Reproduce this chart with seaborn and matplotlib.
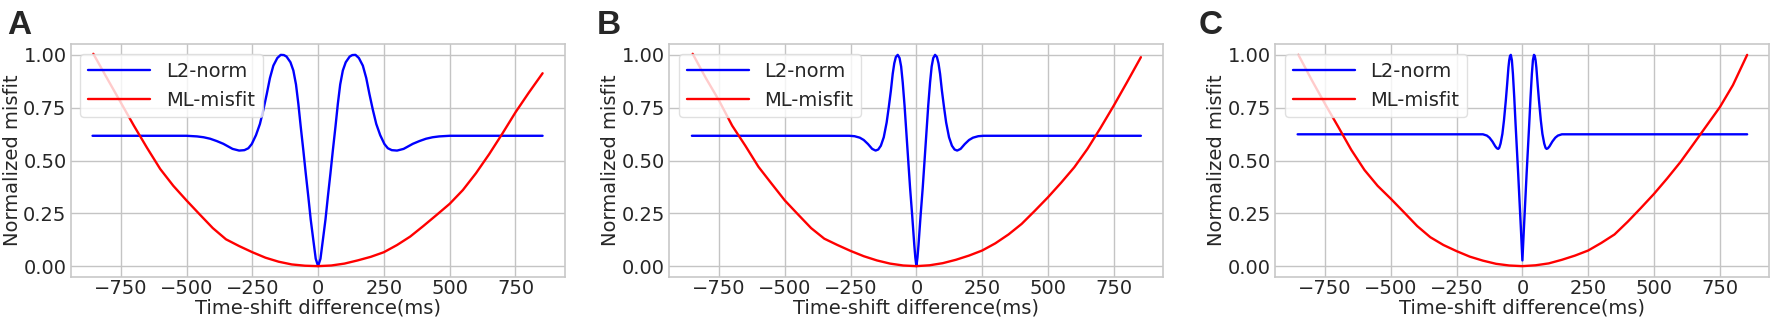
import matplotlib
matplotlib.use("Agg")
import matplotlib.pyplot as plt
import seaborn as sns

# ---------------- data ----------------
# Panel A
A_l2_x = [-857, -500, -460, -435, -410, -385, -360, -325, -300, -280, -265, -252, -236, -221, -208, -195,
          -183, -170, -155, -142, -130, -120, -105, -94, -84, -75, -66, -56, -47, -37, -28, -18, -9, 0,
          9, 18, 28, 37, 47, 56, 66, 75, 84, 94, 105, 120, 130, 142, 155, 170, 183, 195, 208, 221, 236,
          252, 265, 280, 300, 325, 360, 385, 410, 435, 460, 500, 853]
A_l2_y = [0.617, 0.617, 0.614, 0.610, 0.603, 0.592, 0.579, 0.555, 0.547, 0.549, 0.558, 0.578, 0.620, 0.673,
          0.740, 0.815, 0.890, 0.949, 0.985, 1.0, 0.999, 0.992, 0.965, 0.926, 0.860, 0.768, 0.660, 0.547,
          0.440, 0.327, 0.220, 0.122, 0.035, 0.0,
          0.035, 0.122, 0.220, 0.327, 0.440, 0.547, 0.660, 0.768, 0.860, 0.926, 0.965, 0.992, 0.999, 1.0,
          0.985, 0.949, 0.890, 0.815, 0.740, 0.673, 0.620, 0.578, 0.558, 0.549, 0.547, 0.555, 0.579, 0.592,
          0.603, 0.610, 0.614, 0.617, 0.617]
A_ml_x = [-854, -800, -750, -700, -650, -600, -550, -500, -450, -400, -350, -300, -250, -200, -150, -100,
          -50, 0, 50, 100, 150, 200, 250, 300, 350, 400, 450, 500, 550, 600, 650, 700, 750, 800, 853]
A_ml_y = [1.005, 0.885, 0.775, 0.665, 0.560, 0.460, 0.380, 0.311, 0.245, 0.180, 0.127, 0.095, 0.066,
          0.040, 0.021, 0.008, 0.002, 0.0, 0.003, 0.012, 0.027, 0.044, 0.066, 0.100, 0.140, 0.190, 0.242,
          0.295, 0.360, 0.440, 0.530, 0.627, 0.728, 0.820, 0.913]

# Panel B
B_l2_x = [-853, -255, -235, -215, -200, -184, -168, -155, -145, -135, -124, -113, -105, -97, -90, -84,
          -78, -71, -64, -58, -52, -45, -38, -31, -24, -16, -8, -4, 0, 4, 8, 16, 24, 31, 38, 45, 52, 58,
          64, 71, 78, 84, 90, 97, 105, 113, 124, 135, 145, 155, 168, 184, 200, 215, 235, 255, 853]
B_l2_y = [0.617, 0.617, 0.615, 0.608, 0.597, 0.578, 0.555, 0.547, 0.552, 0.570, 0.610, 0.680, 0.752,
          0.830, 0.910, 0.960, 0.990, 1.0, 0.985, 0.945, 0.870, 0.760, 0.630, 0.500, 0.370, 0.240, 0.100,
          0.040, 0.0, 0.040, 0.100, 0.240, 0.370, 0.500, 0.630, 0.760, 0.870, 0.945, 0.985, 1.0, 0.990,
          0.960, 0.910, 0.830, 0.752, 0.680, 0.610, 0.570, 0.552, 0.547, 0.555, 0.578, 0.597, 0.608,
          0.615, 0.617, 0.617]
B_ml_x = [-850, -800, -750, -700, -650, -600, -550, -500, -450, -400, -350, -300, -250, -200, -150, -100,
          -50, 0, 50, 100, 150, 200, 250, 300, 350, 400, 450, 500, 550, 600, 650, 700, 750, 800, 853]
B_ml_y = [1.005, 0.890, 0.784, 0.665, 0.570, 0.470, 0.390, 0.311, 0.245, 0.180, 0.130, 0.100, 0.072,
          0.047, 0.027, 0.012, 0.003, 0.0, 0.004, 0.014, 0.030, 0.050, 0.074, 0.108, 0.150, 0.200, 0.262,
          0.326, 0.395, 0.468, 0.555, 0.655, 0.760, 0.870, 0.989]

# Panel C
C_l2_x = [-854, -150, -135, -125, -114, -103, -97, -92, -88, -83, -76, -70, -63, -58, -53, -50, -47, -44,
          -40, -36, -31, -26, -21, -16, -11, -6, 0, 6, 11, 16, 21, 26, 31, 36, 40, 44, 47, 50, 53, 58,
          63, 70, 76, 83, 88, 92, 97, 103, 114, 125, 135, 150, 854]
C_l2_y = [0.624, 0.624, 0.618, 0.608, 0.590, 0.567, 0.558, 0.555, 0.560, 0.580, 0.626, 0.690, 0.784,
          0.860, 0.941, 0.975, 0.995, 1.0, 0.975, 0.910, 0.800, 0.674, 0.555, 0.437, 0.310, 0.185, 0.027,
          0.185, 0.310, 0.437, 0.555, 0.674, 0.800, 0.910, 0.975, 1.0, 0.995, 0.975, 0.941, 0.860, 0.784,
          0.690, 0.626, 0.580, 0.560, 0.555, 0.558, 0.567, 0.590, 0.608, 0.618, 0.624, 0.624]
C_ml_x = [-851, -800, -750, -700, -650, -600, -550, -500, -450, -400, -350, -300, -250, -200, -150, -100,
          -50, 0, 50, 100, 150, 200, 250, 300, 350, 400, 450, 500, 550, 600, 650, 700, 750, 800, 854]
C_ml_y = [1.0, 0.880, 0.768, 0.660, 0.550, 0.455, 0.380, 0.319, 0.255, 0.190, 0.137, 0.100, 0.071, 0.045,
          0.026, 0.011, 0.003, 0.0, 0.004, 0.013, 0.030, 0.050, 0.074, 0.110, 0.150, 0.210, 0.275, 0.342,
          0.415, 0.492, 0.578, 0.665, 0.752, 0.857, 1.0]

panel_letters = ["A", "B", "C"]
series_names = ["L2-norm", "ML-misfit"]
x_ticks = [-750, -500, -250, 0, 250, 500, 750]
y_ticks = [0.00, 0.25, 0.50, 0.75, 1.00]
x_label = "Time-shift difference(ms)"
y_label = "Normalized misfit"

panels = [
    (A_l2_x, A_l2_y, A_ml_x, A_ml_y),
    (B_l2_x, B_l2_y, B_ml_x, B_ml_y),
    (C_l2_x, C_l2_y, C_ml_x, C_ml_y),
]

# ---------------- style ----------------
sns.set_style("whitegrid", {
    "grid.color": "#c4c4c4",
    "axes.edgecolor": "#c8c8c8",
})
plt.rcParams["font.family"] = ["DejaVu Sans"]
plt.rcParams["axes.linewidth"] = 1.2
plt.rcParams["grid.linewidth"] = 1.0

W, H = 1772, 322
fig = plt.figure(figsize=(W / 100, H / 100), dpi=100)

ax_lefts = [70.7, 669.0, 1275.0]
ax_w = 494.0
ax_top, ax_bot = 44.3, 276.7
label_x = [7, 597, 1199]

for i, (lx, ly, mx, my) in enumerate(panels):
    ax = fig.add_axes([ax_lefts[i] / W, (H - ax_bot) / H, ax_w / W, (ax_bot - ax_top) / H])
    sns.lineplot(x=lx, y=ly, ax=ax, color="#0000ff", linewidth=1.7, label=series_names[0],
                 estimator=None, sort=False)
    sns.lineplot(x=mx, y=my, ax=ax, color="#ff0000", linewidth=1.7, label=series_names[1],
                 estimator=None, sort=False)
    ax.set_xlim(-940, 937)
    ax.set_ylim(-0.05, 1.05)
    ax.set_xticks(x_ticks)
    ax.set_yticks(y_ticks)
    ax.set_yticklabels([f"{v:.2f}" for v in y_ticks])
    ax.tick_params(axis="both", labelsize=14, length=0)
    ax.tick_params(axis="x", pad=2)
    ax.tick_params(axis="y", pad=3)
    ax.set_xlabel(x_label, fontsize=14, labelpad=0)
    ax.set_ylabel(y_label, fontsize=14, labelpad=1)
    ax.legend(loc="upper left", fontsize=14, handlelength=3.2, borderaxespad=0.5,
              framealpha=0.8, fancybox=True, edgecolor="0.85")
    for spine in ax.spines.values():
        spine.set_color("#c8c8c8")
        spine.set_linewidth(1.2)
    fig.text(label_x[i] / W, 1 - 33.7 / H, panel_letters[i], fontsize=24, fontweight="bold",
             family=["Liberation Sans", "DejaVu Sans"], ha="left", va="baseline")

fig.savefig("out.png", dpi=100)
